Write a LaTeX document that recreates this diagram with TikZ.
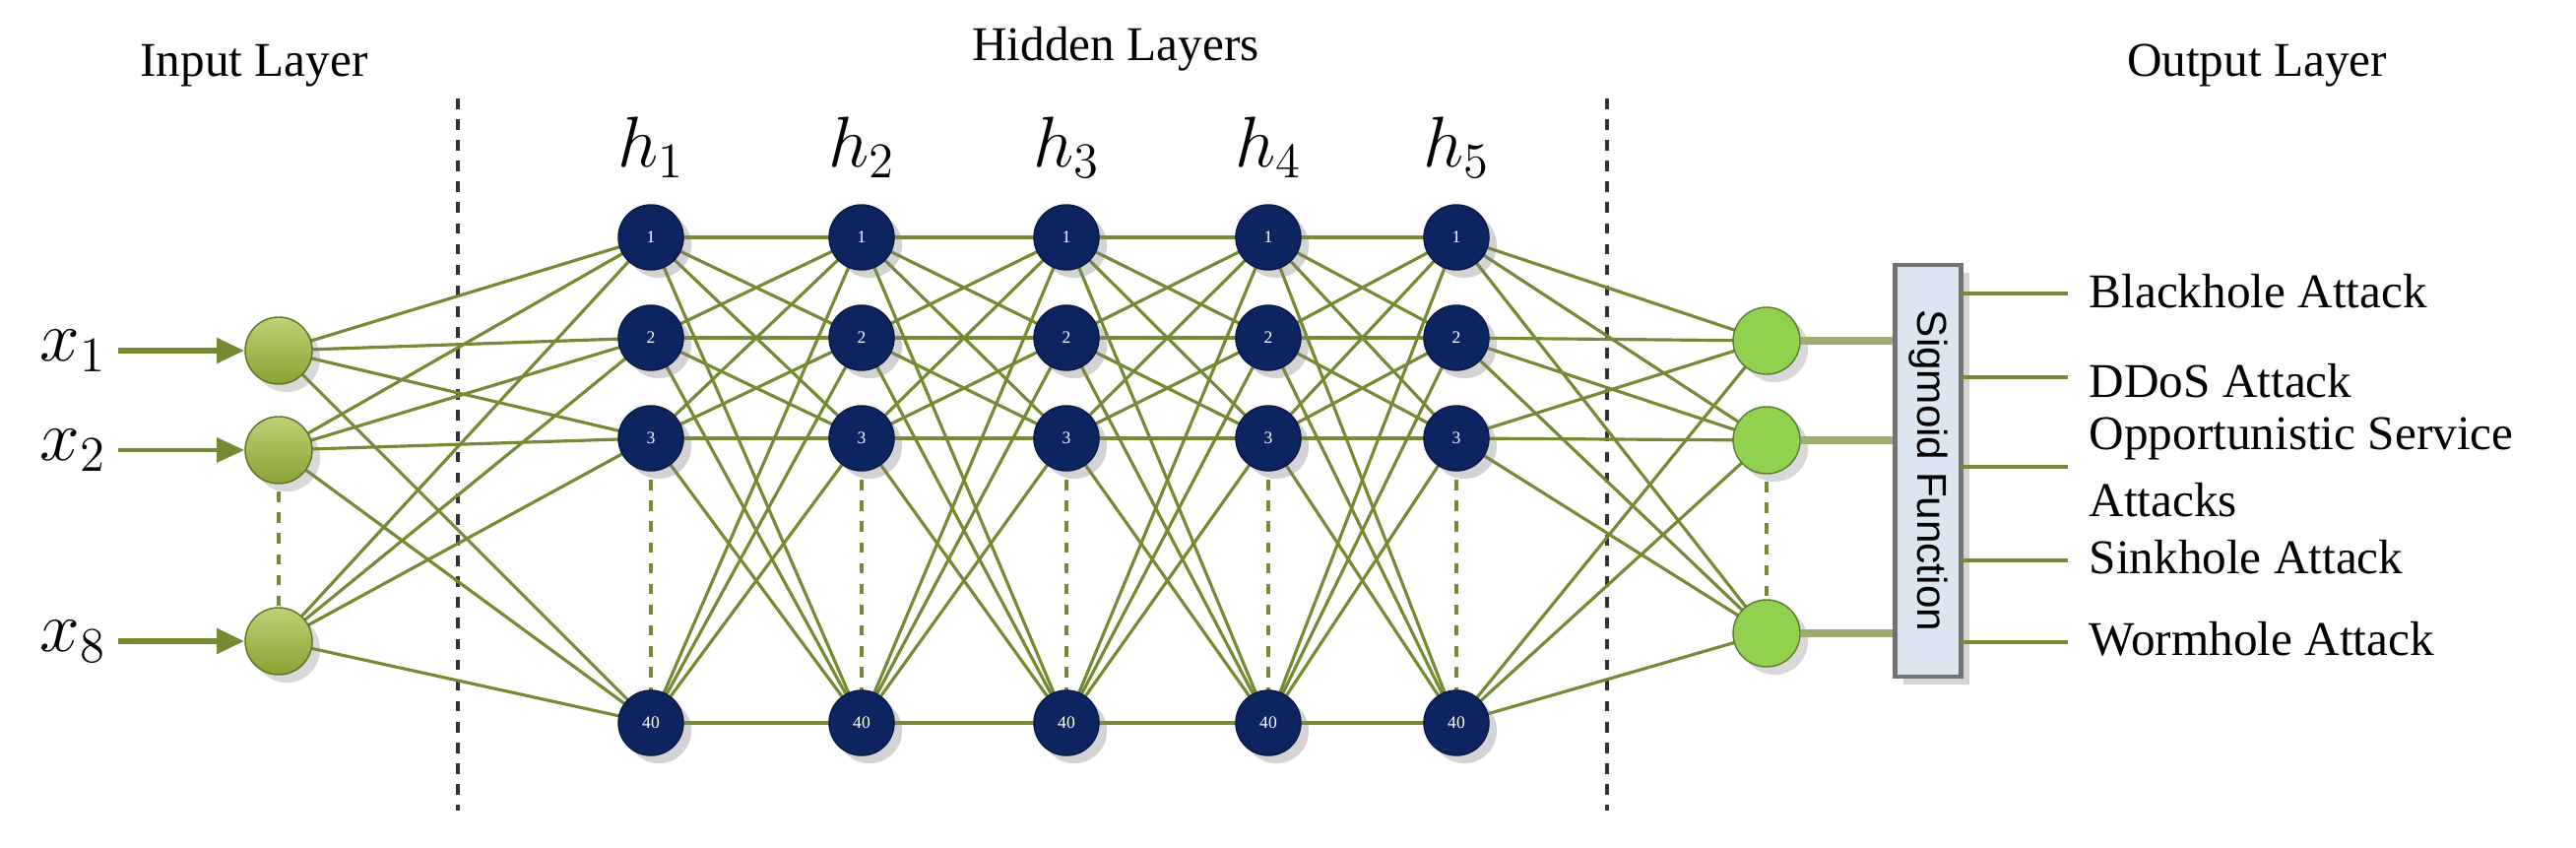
\documentclass[tikz,border=0pt]{standalone}
\usepackage{fontspec}
\setmainfont{Liberation Serif}
\newfontfamily\sigfont{Liberation Sans}
\usetikzlibrary{arrows.meta,shadows}
\definecolor{edge}{RGB}{118,138,52}
\definecolor{navy}{RGB}{12,36,96}
\definecolor{inp}{RGB}{160,190,60}
\definecolor{outp}{RGB}{146,208,80}
\definecolor{boxf}{RGB}{220,230,240}
\begin{document}
\begin{tikzpicture}[x=0.01cm,y=-0.01cm,
  conn/.style={draw=edge,line width=0.9pt},
  hid/.style={circle,fill=navy,draw=navy!70!black,minimum size=0.66cm,inner sep=0pt,text=white,font=\fontsize{5}{5}\selectfont,drop shadow={opacity=0.35}},
  innode/.style={circle,top color=inp!70!white,bottom color=inp!85!black,draw=inp!60!black,minimum size=0.68cm,inner sep=0pt,drop shadow={opacity=0.3}},
  outnode/.style={circle,fill=outp,draw=outp!60!black,minimum size=0.68cm,inner sep=0pt,drop shadow={opacity=0.3}},
  vdash/.style={draw=edge,dashed,line width=0.9pt},
  sep/.style={draw=black!80,dashed,line width=1pt},
  title/.style={font=\fontsize{14}{16}\selectfont},
  lab/.style={font=\fontsize{14}{16}\selectfont,anchor=west,inner sep=0pt},
  hl/.style={font=\fontsize{22}{24}\selectfont}
]
\useasboundingbox (0,0) rectangle (2616,861);
% titles
\node[title] (tin) at (258,67) {Input Layer};
\node[title] (thid) at (1133,50) {Hidden Layers};
\node[title] (tout) at (2292,67) {Output Layer};
% separators
\coordinate (s1a) at (465,100); \coordinate (s1b) at (465,823);
\coordinate (s2a) at (1632,100); \coordinate (s2b) at (1632,823);
\draw[sep] (s1a) -- (s1b);
\draw[sep] (s2a) -- (s2b);
% hidden layers
\foreach \c/\x in {1/661,2/875,3/1083,4/1288,5/1479}{
  \node[hl] (h\c) at (\x,150) {$h_{\c}$};
  \foreach \r/\y in {1/241,2/343,3/445,40/734}{
    \coordinate (p\c-\r) at (\x,\y);
  }
}
\coordinate (pi1) at (283,356); \coordinate (pi2) at (283,457); \coordinate (pi8) at (283,651);
\coordinate (po1) at (1794,346); \coordinate (po2) at (1794,447); \coordinate (po3) at (1794,643);
% connections
\foreach \i in {1,2,8}{\foreach \r in {1,2,3,40}{\draw[conn] (pi\i) -- (p1-\r);}}
\foreach \c/\d in {1/2,2/3,3/4,4/5}{\foreach \r in {1,2,3,40}{\foreach \s in {1,2,3,40}{\draw[conn] (p\c-\r) -- (p\d-\s);}}}
\foreach \r in {1,2,3,40}{\foreach \o in {1,2,3}{\draw[conn] (p5-\r) -- (po\o);}}
% dashed verticals
\foreach \c in {1,...,5}{\draw[vdash] (p\c-3) -- (p\c-40);}
\draw[vdash] (pi2) -- (pi8);
\draw[vdash] (po2) -- (po3);
% nodes
\foreach \c in {1,...,5}{\foreach \r in {1,2,3,40}{\node[hid] (n\c-\r) at (p\c-\r) {\r};}}
\node[innode] (i1) at (pi1) {};
\node[innode] (i2) at (pi2) {};
\node[innode] (i8) at (pi8) {};
\node[outnode] (o1) at (po1) {};
\node[outnode] (o2) at (po2) {};
\node[outnode] (o3) at (po3) {};
% input labels and arrows
\node[hl,anchor=east] (x1) at (120,356) {$x_1$};
\node[hl,anchor=east] (x2) at (120,457) {$x_2$};
\node[hl,anchor=east] (x8) at (120,651) {$x_8$};
\draw[draw=edge!80,line width=1.8pt,-{Triangle[length=8pt,width=7pt]},edge] (x1) -- (i1);
\draw[draw=edge,line width=1.2pt,-{Triangle[length=8pt,width=7pt]},edge] (x2) -- (i2);
\draw[draw=edge!80,line width=1.8pt,-{Triangle[length=8pt,width=7pt]},edge] (x8) -- (i8);
% sigmoid box
\node[draw=black!55,line width=1.2pt,fill=boxf,minimum width=0.67cm,minimum height=4.17cm,inner sep=0pt,drop shadow={opacity=0.35}] (sig) at (1958,478) {};
\node[rotate=-90,font=\sigfont\fontsize{12}{12}\selectfont] (sigt) at (sig.center) {Sigmoid Function};
\foreach \o in {1,2,3}{\draw[draw=edge!70,line width=2pt] (o\o) -- (o\o -| sig.west);}
% output labels
\node[lab] (l1) at (2121,296) {Blackhole Attack};
\node[lab] (l2) at (2121,387) {DDoS Attack};
\node[lab] (l3) at (2121,445) {Opportunistic Service};
\node[lab] (l3b) at (2121,508) {Attacks};
\node[lab] (l4) at (2121,566) {Sinkhole Attack};
\node[lab] (l5) at (2121,649) {Wormhole Attack};
\foreach \y in {298,383,474,569,652}{
  \coordinate (ea) at (1992,\y); \coordinate (eb) at (2100,\y);
  \draw[conn,line width=1.3pt] (ea) -- (eb);
}
\end{tikzpicture}
\end{document}
